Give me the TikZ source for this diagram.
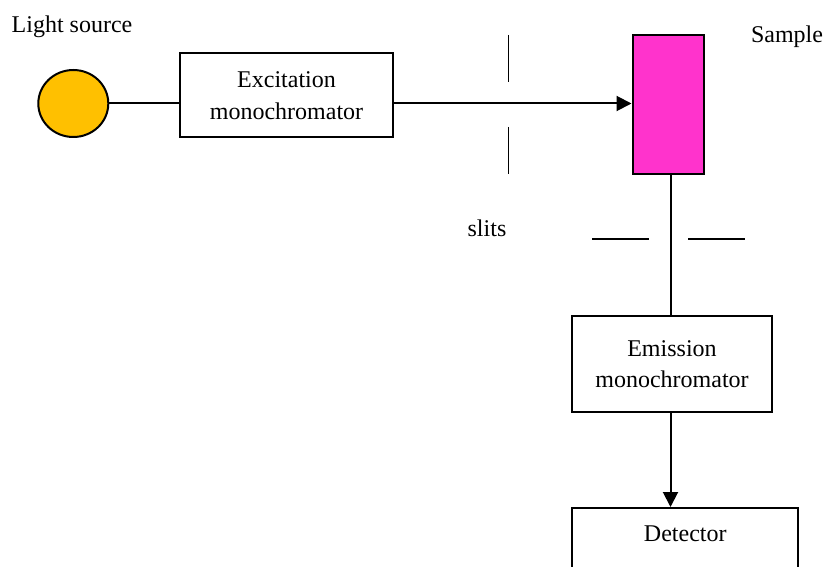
\documentclass[tikz,border=0pt]{standalone}
\usepackage{fontspec}
\setmainfont{Liberation Serif}
\usetikzlibrary{arrows.meta,shapes.geometric}
\definecolor{srcfill}{RGB}{255,192,0}
\definecolor{smpfill}{RGB}{255,51,204}
\tikzset{
  box/.style={draw, line width=1pt, inner sep=0pt, align=center, font=\fontsize{12}{15.75}\selectfont},
  lbl/.style={inner sep=0pt, anchor=base, font=\fontsize{12}{15.75}\selectfont},
  conn/.style={line width=1pt},
  arr/.style={line width=1pt, -{Triangle[length=7.5pt,width=7.5pt]}},
  slit/.style={line width=0.7pt},
  hslit/.style={line width=1pt}
}
\begin{document}
\begin{tikzpicture}[x=0.5pt,y=-0.5pt]
\useasboundingbox (0,0) rectangle (826,567);
\clip (0,0) rectangle (826,567);
% source
\node[draw, line width=1pt, fill=srcfill, ellipse, minimum width=35pt, minimum height=33.5pt, inner sep=0pt] (src) at (73.3,103.5) {};
\node[lbl] (srclbl) at (72,33) {Light source};
% excitation monochromator
\node[box, minimum width=106.5pt, minimum height=42pt] (exc) at (286.5,95.5) {Excitation\\monochromator};
% sample
\node[draw, line width=1pt, fill=smpfill, minimum width=35.5pt, minimum height=69.5pt, inner sep=0pt] (smp) at (668,104.5) {};
\node[lbl] (smplbl) at (787,43) {Sample};
% slits
\coordinate (s1a) at (508.5,35);
\coordinate (s1b) at (508.5,82);
\coordinate (s2a) at (508.5,127);
\coordinate (s2b) at (508.5,174);
\draw[slit] (s1a) -- (s1b);
\draw[slit] (s2a) -- (s2b);
\coordinate (h1a) at (592,239.5);
\coordinate (h1b) at (649,239.5);
\coordinate (h2a) at (688,239.5);
\coordinate (h2b) at (745,239.5);
\draw[hslit] (h1a) -- (h1b);
\draw[hslit] (h2a) -- (h2b);
\node[lbl] (slitlbl) at (487,237) {slits};
% emission monochromator
\node[box, minimum width=100pt, minimum height=48pt] (emi) at (672,364) {Emission\\monochromator};
% detector
\node[draw, line width=1pt, minimum width=113pt, minimum height=60pt, inner sep=0pt] (det) at (685.3,568) {};
\node[lbl] (detlbl) at (685.3,541) {Detector};
% connectors
\coordinate (vx) at (670.5,0);
\draw[conn] (src.east) -- (src.east -| exc.west);
\draw[arr] (exc.east |- src.east) -- (smp.west |- src.east);
\draw[conn] (smp.south -| vx) -- (emi.north -| vx);
\draw[arr] (emi.south -| vx) -- (det.north -| vx);
\end{tikzpicture}
\end{document}
